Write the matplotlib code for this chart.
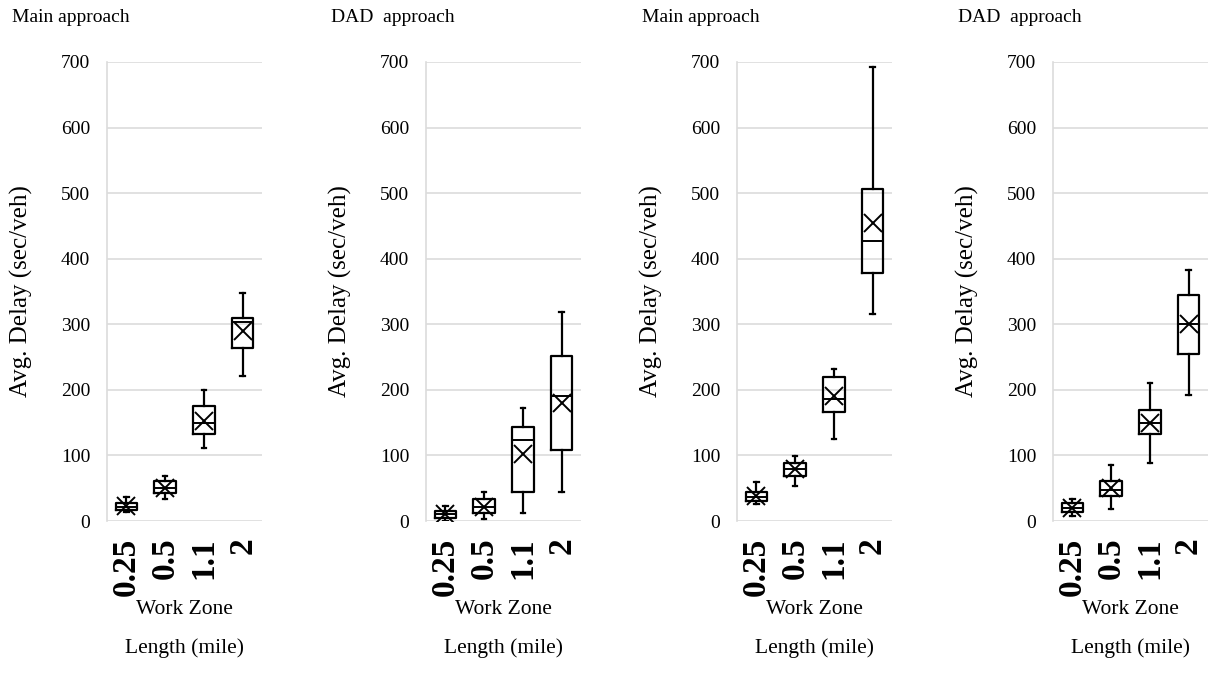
import matplotlib
matplotlib.use("Agg")
import matplotlib.pyplot as plt

plt.rcParams['font.family'] = ['Liberation Serif', 'DejaVu Serif']

categories = ["0.25", "0.5", "1.1", "2"]
titles = ["Main approach", "DAD  approach", "Main approach", "DAD  approach"]

# per panel: lists per category
p1_whislo = [13, 33, 112, 221]
p1_q1 = [17, 43, 133, 264]
p1_med = [22, 50, 150, 304]
p1_q3 = [27, 61, 175, 309]
p1_whishi = [37, 69, 200, 348]
p1_mean = [23, 50, 152, 290]

p2_whislo = [0, 3, 12, 44]
p2_q1 = [5, 12, 44, 108]
p2_med = [10, 22, 123, 190]
p2_q3 = [16, 33, 143, 251]
p2_whishi = [23, 44, 173, 318]
p2_mean = [10, 22, 102, 180]

p3_whislo = [26, 54, 125, 316]
p3_q1 = [30, 68, 166, 378]
p3_med = [36, 80, 186, 427]
p3_q3 = [44, 89, 219, 507]
p3_whishi = [59, 99, 232, 693]
p3_mean = [38, 79, 190, 455]

p4_whislo = [8, 18, 88, 192]
p4_q1 = [13, 38, 133, 254]
p4_med = [20, 48, 150, 300]
p4_q3 = [28, 61, 170, 344]
p4_whishi = [33, 85, 211, 383]
p4_mean = [20, 50, 150, 300]

panels = [
    (p1_whislo, p1_q1, p1_med, p1_q3, p1_whishi, p1_mean),
    (p2_whislo, p2_q1, p2_med, p2_q3, p2_whishi, p2_mean),
    (p3_whislo, p3_q1, p3_med, p3_q3, p3_whishi, p3_mean),
    (p4_whislo, p4_q1, p4_med, p4_q3, p4_whishi, p4_mean),
]

fig = plt.figure(figsize=(12.14, 6.8), dpi=100)
W, H = 1214, 680
lefts = [107, 426, 737, 1053]
ax_w = 155
top_px, bot_px = 62, 521
ax_h = bot_px - top_px

for i, (lo, q1, med, q3, hi, mn) in enumerate(panels):
    l = lefts[i]
    ax = fig.add_axes([l / W, 1 - bot_px / H, ax_w / W, ax_h / H])
    stats = []
    for k in range(len(categories)):
        stats.append(dict(whislo=lo[k], q1=q1[k], med=med[k], q3=q3[k],
                          whishi=hi[k], mean=mn[k], fliers=[], label=categories[k]))
    pos = list(range(len(categories)))
    ax.bxp(stats, positions=pos, widths=0.55, showmeans=True, showfliers=False,
           boxprops=dict(color='black', linewidth=1.6),
           whiskerprops=dict(color='black', linewidth=1.6),
           capprops=dict(color='black', linewidth=1.6),
           medianprops=dict(color='black', linewidth=1.4),
           meanprops=dict(marker='x', markeredgecolor='black', markersize=13,
                          markeredgewidth=1.4),
           capwidths=0.12, zorder=3)
    ax.set_xlim(-0.5, len(categories) - 0.5)
    ax.set_ylim(0, 700)
    ax.set_yticks(range(0, 701, 100))
    ax.yaxis.grid(True, color='#dcdcdc', linewidth=1.2, zorder=0)
    ax.set_axisbelow(True)
    for s in ['top', 'right', 'bottom']:
        ax.spines[s].set_visible(False)
    ax.spines['left'].set_color('#dcdcdc')
    ax.spines['left'].set_linewidth(1.2)
    ax.tick_params(axis='both', length=0)
    ax.tick_params(axis='y', labelsize=14, pad=12)
    ax.set_xticks(pos)
    ax.set_xticklabels(categories, rotation=90, fontsize=24, fontweight='bold')
    ax.tick_params(axis='x', pad=12)
    ax.set_ylabel("Avg. Delay (sec/veh)", fontsize=18)
    ax.yaxis.set_label_coords((33 - 107) / ax_w, 0.5)
    ax.set_xlabel("Work Zone\nLength (mile)", fontsize=15.5, linespacing=2.3)
    ax.xaxis.set_label_coords(0.5, (bot_px - 600) / ax_h)
    fig.text((l - 95) / W, 1 - 18 / H, titles[i], fontsize=14, ha='left', va='center')

fig.savefig("out.png", dpi=100)
